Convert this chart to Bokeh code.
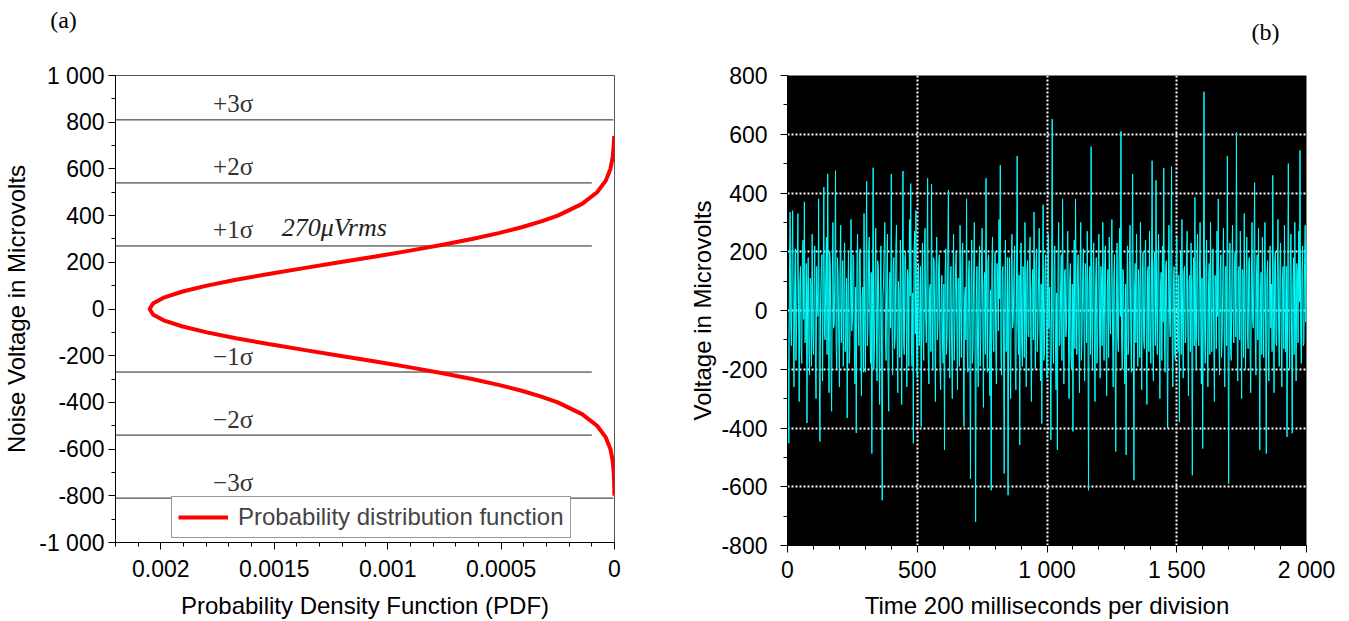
from bokeh.plotting import figure
from bokeh.layouts import row, column
from bokeh.models import (ColumnDataSource, Range1d, SingleIntervalTicker, CustomJSTickFormatter,
                          Legend, LegendItem)
from bokeh.core.properties import value
from bokeh.embed import file_html
from bokeh.resources import INLINE

# ---------------- data: panel (a) ----------------
pdf_mv = [-800, -750, -700, -650, -600, -550, -500, -450, -400, -375, -350, -325, -300, -275, -250,
          -225, -200, -175, -150, -125, -100, -75, -50, -25, 0, 25, 50, 75, 100, 125, 150, 175, 200,
          225, 250, 275, 300, 325, 350, 375, 400, 450, 500, 550, 600, 650, 700, 740]
pdf_density = [0.0000004, 0.0000013, 0.0000033, 0.0000079, 0.0000180, 0.0000384, 0.0000767, 0.000143,
               0.000250, 0.000323, 0.000409, 0.000511, 0.000628, 0.000758, 0.000901, 0.001054,
               0.001212, 0.001370, 0.001525, 0.001669, 0.001797, 0.001904, 0.001984, 0.002033,
               0.002050, 0.002033, 0.001984, 0.001904, 0.001797, 0.001669, 0.001525, 0.001370,
               0.001212, 0.001054, 0.000901, 0.000758, 0.000628, 0.000511, 0.000409, 0.000323,
               0.000250, 0.000143, 0.0000767, 0.0000384, 0.0000180, 0.0000079, 0.0000033, 0.0000015]
sigma_levels = [810, 540, 270, -270, -540, -810]
sigma_labels = ["+3σ", "+2σ", "+1σ", "−1σ", "−2σ", "−3σ"]
sigma_line_end = [0.000005, 0.0001, 0.0001, 0.0001, 0.0001, 0.000005]
rms_label = "270μVrms"
panel_tags = ["(a)", "(b)"]

# ---------------- data: panel (b) ----------------
time_step = 2.5
noise_uv = [
    20, -150, -452, 120, 335, -40, -120, 180, 340, -90, -260, 60, 210, -170, -60, 140, 330, 20, -310, 90,
    150, -120, -180, 200, 240, -30, 370, -110, -90, 160, -383, 70, 180, -140, -220, 110, 90, -190, 260, -60,
    -150, 80, 220, -160, -300, 150, 60, -20, 380, -210, -446, 40, 130, 190, -240, 70, 420, -80, -100, 130,
    250, -150, 465, 10, -280, 200, 160, -170, -343, 90, 300, -60, -50, 120, 476, -130, -200, 180, 120, -90,
    -260, 140, 290, -110, 40, 170, -190, 60, 230, -140, -80, 110, -366, 30, 200, -180, -140, 90, 310, -70,
    -30, 190, 170, -120, -250, 80, -417, 150, 260, -40, -120, 200, 210, -150, -290, 50, 80, -210, 330, -30,
    -210, 100, 440, -120, -60, 180, 250, -40, -180, 130, -487, 20, 486, -200, -130, 90, 280, -60, -240, 170,
    150, -100, -320, 60, 220, -150, -646, 40, 90, 210, 300, -90, -170, 120, 260, -200, -343, 80, 130, -60,
    465, -30, -220, 150, 180, -130, -90, 210, 290, -70, -280, 100, 60, -160, 240, 30, -320, 120, 475, -110,
    -150, 180, 200, -40, -260, 140, 110, -190, 310, 50, 432, -120, -190, 60, -452, 190, 270, -80, 340, -140,
    -230, 110, 160, -120, -60, 150, -395, 40, 230, -90, -170, 200, 280, -20, -110, 130, 450, -160, -250, 70,
    90, -140, 430, 30, -200, 180, 170, -60, -310, 140, 250, -100, -40, 160, 190, -180, -270, 60, 120, -120,
    -180, 90, -475, 130, 210, -150, -90, 170, 410, -40, -230, 100, 150, -120, -300, 60, 260, -170, -60, 140,
    200, -30, -270, 110, 110, -190, 290, 20, -160, 180, 230, -110, -395, 50, 80, -100, 380, -140, -210, 120,
    170, -60, -573, 100, 240, -180, -120, 150, 300, -50, -720, 30, 150, -140, -260, 120, 220, -190, -80, 160,
    280, -20, -330, 90, 130, -150, 450, 10, -210, 170, 190, -120, -290, 70, -612, 140, 250, -90, -140, 110,
    200, -120, -250, 160, 90, -70, 310, 40, 495, -160, -220, 130, 150, -90, -555, 60, 240, -140, -100, 180,
    -629, 20, 180, -110, -300, 150, 260, -60, -40, 130, 220, -170, -270, 90, 526, -30, -150, 120, -458, 80,
    230, -110, -190, 150, 120, -160, 300, 10, -260, 130, 170, -80, -90, 190, 250, -130, -310, 70, 140, -100,
    335, 40, -200, 160, 210, -140, -60, 120, 280, -50, -240, 90, -385, 30, 360, -170, -150, 140, 190, -90,
    -230, 120, 260, -60, 80, -150, -440, 90, 652, -40, -180, 140, 220, -100, -270, 60, -475, 170, 300, -120,
    -110, 80, 190, -170, 380, 20, -250, 130, 140, -90, -60, 150, 270, -50, -300, 110, 160, -160, -200, 90,
    -412, 60, 240, -130, 380, 10, -150, 140, 190, -60, -280, 120, 300, -170, -90, 110, 210, -40, -240, 160,
    120, -110, 270, 30, -612, 80, 150, -150, 558, -20, -200, 130, 230, -90, -310, 100, 180, -180, -120, 150,
    260, -70, -230, 150, 100, -120, 300, 20, -170, 160, 220, -100, -290, 80, 140, -160, 250, -30, -80, 130,
    310, -60, -260, 110, 190, -140, -480, 50, 230, -90, -140, 170, 280, -20, 610, -110, -200, 140, 120, -130,
    -250, 90, -492, 60, 220, -150, -100, 170, 290, -40, -210, 120, 465, -60, -578, 80, 160, -110, 260, -20,
    -190, 140, 80, -160, 300, 30, -270, 110, 200, -100, -130, 150, 240, -70, -320, 130, 150, -140, 270, -50,
    -180, 100, 510, -80, -240, 160, 200, -120, 443, 10, -150, 140, 260, -60, -300, 90, 130, -170, 220, -40,
    485, -100, -210, 150, 170, -130, -400, 70, 290, -30, -90, 160, 490, -120, -260, 110, 150, -150, -170, 130,
    250, -60, -140, 120, -380, 40, 200, -150, 310, -20, -230, 130, 150, -110, -90, 170, 270, -70, -290, 100,
    120, -140, 230, 30, -561, 90, 180, -120, 385, -50, -200, 150, 260, -90, -120, 140, 300, -30, -250, 110,
    -470, 80, 745, -60, -180, 130, 240, -110, -260, 90, 160, -150, 300, 20, -140, 160, 210, -80, -310, 120,
    100, -130, 270, -20, 380, -100, -220, 140, 190, -160, -90, 110, 280, -50, -260, 150, 150, -120, 526, -40,
    -590, 70, 230, -140, -170, 120, 290, -30, -110, 160, 200, -90, 606, -50, -240, 130, 150, -100, 270, 10,
    -300, 140, 120, -160, 330, -20, -200, 120, 250, -80, -130, 170, 180, -120, -280, 90, 300, -40, -60, 150,
    435, -80, -220, 140, 190, -100, 280, -30, -475, 60, 130, -150, 250, 20, -160, 130, 300, -70, -487, 110,
    170, -120, -240, 150, 220, -60, 90, -140, 460, -20, -280, 160, 200, -110, -120, 130, 310, -50, -190, 140,
    230, -90, -260, 120, 150, -130, 290, 40, -140, 150, -430, 70, 500, -60, -200, 140, 260, -100, -418, 80,
    180, -150, 300, -20, -240, 160, 130, -110, 270, 30, 545, -70, -180, 140, 220, -120, -110, 160, 290, -40,
    230,
]
time_ms = [i * time_step for i in range(len(noise_uv))]

SANS = "Liberation Sans"
SERIF = "Liberation Serif"
TICK_FS = "23px"
TITLE_FS = "24px"
TOP_H = 50

fmt_int = CustomJSTickFormatter(code=r"""
const v = Math.round(tick);
const s = Math.abs(v).toString().replace(/\B(?=(\d{3})+(?!\d))/g, ' ');
return (v < 0 ? '-' : '') + s;
""")
fmt_pdf = CustomJSTickFormatter(code="return Math.abs(tick) < 1e-12 ? '0' : String(parseFloat(tick.toPrecision(6)));")


def style_axes(p):
    for ax in (p.xaxis[0], p.yaxis[0]):
        ax.major_label_text_font = SANS
        ax.major_label_text_font_size = TICK_FS
        ax.major_label_text_color = "black"
        ax.axis_label_text_font = SANS
        ax.axis_label_text_font_size = TITLE_FS
        ax.axis_label_text_font_style = "normal"
        ax.axis_label_text_color = "black"
        ax.axis_line_color = "black"
        ax.major_tick_line_color = "black"
        ax.minor_tick_line_color = "black"
        ax.major_tick_in = 0
        ax.major_tick_out = 7
        ax.minor_tick_in = 0
        ax.minor_tick_out = 4


# ---------------- strip holding the panel tags (a) / (b) ----------------
ptop = figure(width=1341, height=TOP_H, x_range=Range1d(0, 1341), y_range=Range1d(TOP_H, 0),
              output_backend="svg", toolbar_location=None, min_border=0)
ptop.axis.visible = False
ptop.grid.visible = False
ptop.outline_line_color = None
ptop.text(x=[63, 1265], y=[19, 31], text=panel_tags, text_font=value(SERIF), text_font_size="24px",
          text_color="black", text_align="center", text_baseline="middle")

# ---------------- panel (a) ----------------
p1 = figure(frame_width=499, frame_height=467, x_range=Range1d(0.0022, 0), y_range=Range1d(-1000, 1000),
            output_backend="svg", toolbar_location=None, min_border_left=112, min_border_right=67,
            min_border_top=75 - TOP_H, min_border_bottom=70, background_fill_color="white")
p1.grid.visible = False
p1.outline_line_color = "#555555"
p1.xaxis.ticker = SingleIntervalTicker(interval=0.0005, num_minor_ticks=5)
p1.yaxis.ticker = SingleIntervalTicker(interval=200, num_minor_ticks=2)
p1.xaxis.formatter = fmt_pdf
p1.yaxis.formatter = fmt_int
p1.xaxis.axis_label = "Probability Density Function (PDF)"
p1.yaxis.axis_label = "Noise Voltage in Microvolts"
style_axes(p1)
p1.xaxis.major_label_standoff = 10
p1.xaxis.axis_label_standoff = 12
p1.yaxis.major_label_standoff = 4
p1.yaxis.axis_label_standoff = 6

sig_src = ColumnDataSource(dict(y=sigma_levels, x1=sigma_line_end, lab=sigma_labels,
                                x0=[p1.x_range.start] * len(sigma_levels)))
p1.segment(x0="x0", y0="y", x1="x1", y1="y", source=sig_src, line_color="#222222", line_width=1)
p1.text(x=0.00177, y="y", text="lab", source=sig_src, text_font=value(SERIF), text_font_size="25px",
        text_color="#333333", text_baseline="middle", text_align="left", y_offset=-16)
p1.text(x=[0.001467], y=[sigma_levels[2]], text=[rms_label], text_font=value(SERIF),
        text_font_style="italic", text_font_size="26px", text_color="#222222",
        text_baseline="middle", text_align="left", y_offset=-18)

pdf_r = p1.line(x=pdf_density, y=pdf_mv, line_color="#ff0000", line_width=4)
legend = Legend(items=[LegendItem(label="Probability distribution function", renderers=[pdf_r])],
                location=(56, 4), label_text_font=SANS, label_text_font_size="24px",
                border_line_color="#333333", border_line_width=1, glyph_width=50, glyph_height=24,
                padding=6, margin=0, spacing=0, label_standoff=10, background_fill_alpha=1)
p1.add_layout(legend)

# ---------------- panel (b) ----------------
p2 = figure(frame_width=519, frame_height=470, x_range=Range1d(0, 2000), y_range=Range1d(-800, 800),
            output_backend="svg", toolbar_location=None, min_border_left=106, min_border_right=30,
            min_border_top=74 - TOP_H, min_border_bottom=68, background_fill_color="black")
p2.outline_line_color = None
p2.xaxis.ticker = SingleIntervalTicker(interval=500, num_minor_ticks=5)
p2.yaxis.ticker = SingleIntervalTicker(interval=200, num_minor_ticks=2)
p2.xaxis.formatter = fmt_int
p2.yaxis.formatter = fmt_int
p2.xaxis.axis_label = "Time 200 milliseconds per division"
p2.yaxis.axis_label = "Voltage in Microvolts"
style_axes(p2)
p2.xaxis.major_label_standoff = 4
p2.xaxis.axis_label_standoff = 6
p2.yaxis.major_label_standoff = 13
p2.yaxis.axis_label_standoff = 2
for g in (p2.xgrid[0], p2.ygrid[0]):
    g.grid_line_color = "white"
    g.grid_line_dash = "2 2"
    g.grid_line_width = 2
p2.line(x=time_ms, y=noise_uv, line_color="#00ffff", line_width=1)

layout = column(ptop, row(p1, p2, spacing=0), spacing=0)
open("out.html", "w").write(file_html(layout, INLINE))
